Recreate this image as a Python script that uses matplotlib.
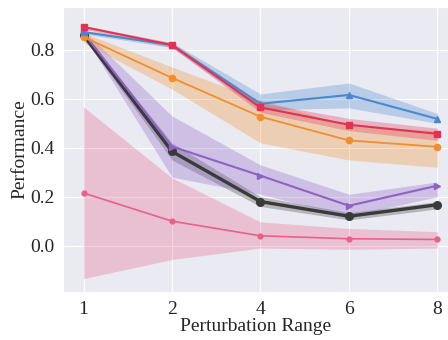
import numpy as np
import seaborn as sns
from matplotlib import pyplot as plt

sns.set_style("darkgrid")
plt.rcParams['font.family'] = ['Liberation Serif', 'DejaVu Serif']

ranges = ['1', '2', '4', '6', '8']

# mean, lower, upper for each method
blue = [0.873, 0.82, 0.58, 0.616, 0.518]
blue_lo = [0.865, 0.81, 0.555, 0.563, 0.50]
blue_hi = [0.88, 0.83, 0.62, 0.665, 0.54]

red = [0.894, 0.82, 0.565, 0.494, 0.457]
red_lo = [0.885, 0.81, 0.545, 0.47, 0.43]
red_hi = [0.90, 0.83, 0.585, 0.52, 0.48]

orange = [0.853, 0.686, 0.527, 0.43, 0.404]
orange_lo = [0.83, 0.64, 0.42, 0.35, 0.32]
orange_hi = [0.87, 0.73, 0.596, 0.49, 0.47]

purple = [0.87, 0.405, 0.286, 0.163, 0.245]
purple_lo = [0.86, 0.28, 0.21, 0.12, 0.20]
purple_hi = [0.88, 0.53, 0.33, 0.21, 0.26]

black = [0.86, 0.385, 0.18, 0.12, 0.167]
black_lo = [0.85, 0.35, 0.16, 0.105, 0.15]
black_hi = [0.87, 0.42, 0.20, 0.135, 0.18]

pink = [0.215, 0.10, 0.04, 0.028, 0.025]
pink_lo = [-0.135, -0.057, -0.01, -0.015, -0.01]
pink_hi = [0.567, 0.277, 0.097, 0.07, 0.057]

x = np.arange(len(ranges))

fig = plt.figure(figsize=(4.48, 3.40), dpi=100)
ax = fig.add_axes([0.141, 0.141, 0.859, 0.838])

series = [
    (pink, pink_lo, pink_hi, '#e8608a', 'o', 1.2, 3.5),
    (black, black_lo, black_hi, '#3a3a3a', 'o', 2.4, 5.5),
    (purple, purple_lo, purple_hi, '#8e62c4', '>', 1.5, 5),
    (orange, orange_lo, orange_hi, '#f28e2b', 'o', 1.3, 4.5),
    (blue, blue_lo, blue_hi, '#4a88d0', '^', 1.5, 5),
    (red, red_lo, red_hi, '#e03352', 's', 1.5, 5),
]
for mean, lo, hi, col, mk, lw, ms in series:
    ax.fill_between(x, lo, hi, color=col, alpha=0.3, lw=0)
    ax.plot(x, mean, color=col, marker=mk, lw=lw, ms=ms)

ax.set_xticks(x)
ax.set_xticklabels(ranges)
ax.set_xlim(-0.23, 4.12)
ax.set_ylim(-0.19, 0.975)
ax.set_yticks([0.0, 0.2, 0.4, 0.6, 0.8])
ax.tick_params(axis='both', labelsize=14, pad=3)
ax.set_xlabel('Perturbation Range', fontsize=14, labelpad=0)
ax.set_ylabel('Performance', fontsize=14, labelpad=1)

fig.savefig('out.png', dpi=100)
